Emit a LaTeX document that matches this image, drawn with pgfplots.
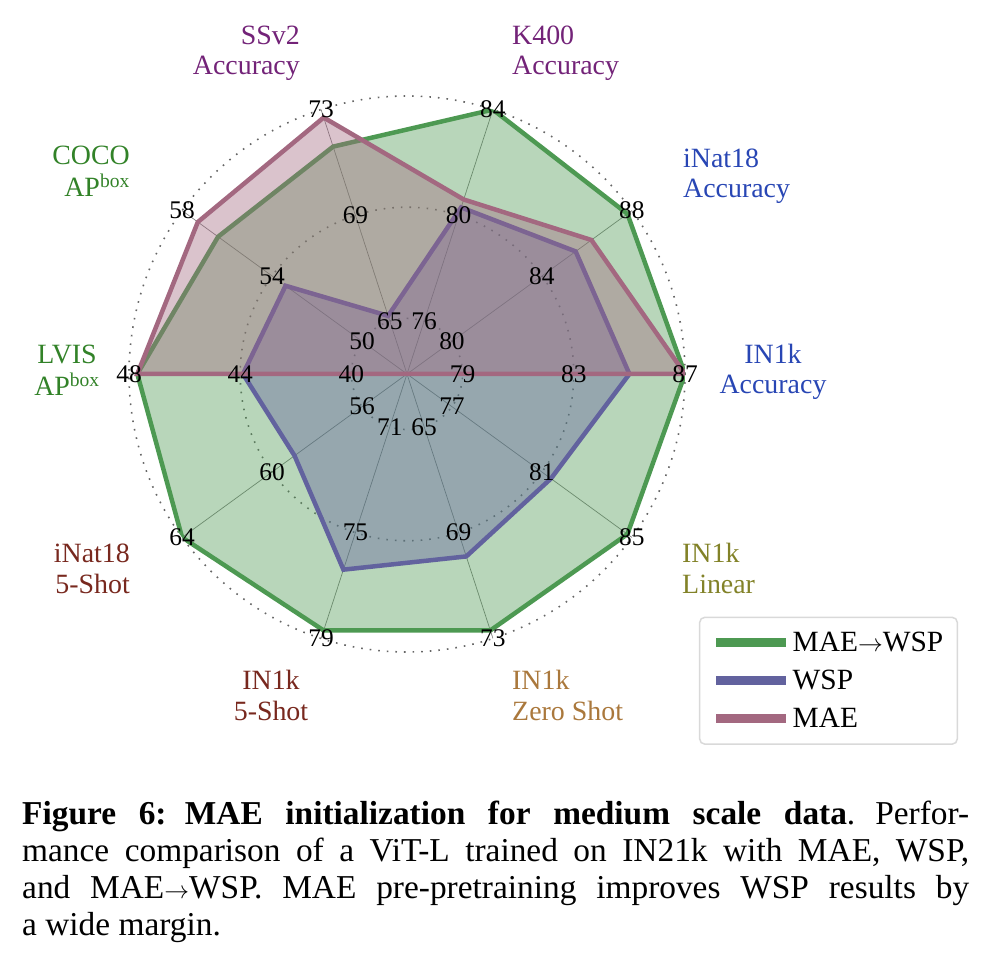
\documentclass[border=0pt]{standalone}
\usepackage{fontspec}
\setmainfont{Liberation Serif}
\usepackage{pgfplots}
\pgfplotsset{compat=1.18}
\usepackage{pgfplotstable}
\usepgfplotslibrary{polar}

\definecolor{cMW}{RGB}{77,153,82}
\definecolor{cW}{RGB}{98,98,158}
\definecolor{cM}{RGB}{163,104,128}
\definecolor{tPurple}{RGB}{115,35,120}
\definecolor{tBlue}{RGB}{40,70,180}
\definecolor{tGreen}{RGB}{50,130,40}
\definecolor{tBrown}{RGB}{120,40,30}
\definecolor{tTan}{RGB}{170,120,60}
\definecolor{tOlive}{RGB}{130,130,40}

% ang = spoke angle, lo = innermost tick value (radius 0.2); 4 units per 0.4 radius
\pgfplotstableread{
ang lo  maewsp wsp  mae
0   79  87.0   85.0 87.0
36  80  87.8   85.5 86.2
72  76  84.0   80.3 80.6
108 65  71.6   65.2 72.7
144 50  56.4   53.4 57.3
180 40  47.7   43.9 47.7
216 56  64.0   59.0 nan
252 71  78.7   76.4 nan
288 65  72.7   69.9 nan
324 77  84.8   81.4 nan
}\radar

\begin{document}
\begin{tikzpicture}
\path[use as bounding box] (0,0) rectangle (996bp,966bp);
\coordinate (C) at (407bp,592bp);
\begin{polaraxis}[
  at={(C)}, anchor=origin,
  width=556bp, height=556bp, scale only axis,
  xmin=0, xmax=360, ymin=0, ymax=1,
  xtick={0,36,...,324}, ytick={0.2,0.6,1},
  xticklabels={}, yticklabels={},
  grid=major, major tick length=0pt,
  x grid style={black!50, line width=0.7bp},
  y grid style={black!60, line width=1.6bp, dash pattern=on 1.6bp off 7bp},
  axis line style={draw=none},
  legend style={at={(1.491,-0.167)}, anchor=south east,
    draw=black!15, rounded corners=5bp, line width=1.5bp,
    font=\fontsize{29.5}{34}\selectfont, row sep=13bp,
    inner xsep=12bp, inner ysep=13bp},
  legend cell align=left,
  legend image code/.code={\draw[#1, fill=none, line width=9bp] (0bp,0bp) -- (70bp,0bp);},
]
\addplot[draw=cMW, line width=4.5bp, fill=cMW, fill opacity=0.4]
  table[x=ang, y expr={0.2+(\thisrow{maewsp}-\thisrow{lo})*0.1}] {\radar} -- cycle;
\addlegendentry{MAE$\rightarrow$WSP}
\addplot[draw=cW, line width=4.5bp, fill=cW, fill opacity=0.4]
  table[x=ang, y expr={0.2+(\thisrow{wsp}-\thisrow{lo})*0.1}] {\radar} -- cycle;
\addlegendentry{WSP}
\addplot[draw=cM, line width=4.5bp, fill=cM, fill opacity=0.4]
  table[x=ang, y expr={0.2+(\thisrow{mae}-\thisrow{lo})*0.1}] {\radar} -- cycle;
\addlegendentry{MAE}
\end{polaraxis}

% tick values along each spoke
\begin{scope}[font=\fontsize{25.5}{30}\selectfont, inner sep=0pt]
\foreach \a/\lo in {0/79,36/80,72/76,108/65,144/50,180/40,216/56,252/71,288/65,324/77} {
  \pgfmathtruncatemacro\mid{\lo+4}
  \pgfmathtruncatemacro\hi{\lo+8}
  \node at ([shift={(\a:55.6bp)}]C) {\lo};
  \node at ([shift={(\a:166.8bp)}]C) {\mid};
  \node at ([shift={(\a:278bp)}]C) {\hi};
}
\end{scope}

% axis names
\begin{scope}[font=\fontsize{28}{33}\selectfont, inner sep=0pt]
\node[tPurple, anchor=base east] at (300bp,921bp) {SSv2};
\node[tPurple, anchor=base east] at (300bp,891bp) {Accuracy};
\node[tPurple, anchor=base west] at (512bp,921bp) {K400};
\node[tPurple, anchor=base west] at (512bp,891bp) {Accuracy};
\node[tBlue, anchor=base west] at (683bp,798bp) {iNat18};
\node[tBlue, anchor=base west] at (683bp,768bp) {Accuracy};
\node[tBlue, anchor=base] at (773bp,602bp) {IN1k};
\node[tBlue, anchor=base] at (773bp,572bp) {Accuracy};
\node[tGreen, anchor=base east] at (130bp,801bp) {COCO};
\node[tGreen, anchor=base east] at (130bp,769bp) {AP\textsuperscript{box}};
\node[tGreen, anchor=base] at (67bp,602bp) {LVIS};
\node[tGreen, anchor=base] at (67bp,570bp) {AP\textsuperscript{box}};
\node[tBrown, anchor=base east] at (130bp,403bp) {iNat18};
\node[tBrown, anchor=base east] at (130bp,372bp) {5-Shot};
\node[tBrown, anchor=base] at (271bp,276bp) {IN1k};
\node[tBrown, anchor=base] at (271bp,245bp) {5-Shot};
\node[tTan, anchor=base west] at (512bp,276bp) {IN1k};
\node[tTan, anchor=base west] at (512bp,245bp) {Zero Shot};
\node[tOlive, anchor=base west] at (682bp,403bp) {IN1k};
\node[tOlive, anchor=base west] at (682bp,372bp) {Linear};
\end{scope}

% caption
\node[anchor=base west, inner sep=0pt, text width=947bp, align=justify,
  font=\fontsize{33.5}{37}\selectfont] at (22bp,141bp)
  {\textbf{Figure 6:\hspace{0.55em}MAE initialization for medium scale data}.\hspace{0.6em}Perfor-\linebreak
   mance comparison of a ViT-L trained on IN21k with MAE, WSP,\linebreak
   and MAE$\rightarrow$WSP. MAE pre-pretraining improves WSP results by\linebreak
   a wide margin.};
\end{tikzpicture}
\end{document}
